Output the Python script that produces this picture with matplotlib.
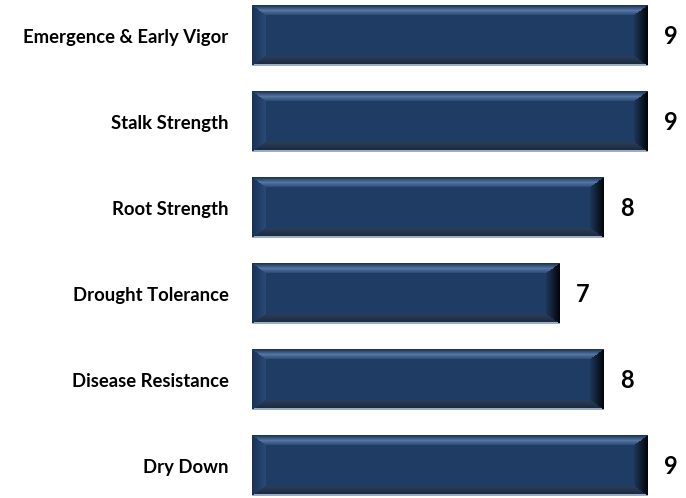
import numpy as np
import matplotlib
matplotlib.use("Agg")
import matplotlib.pyplot as plt
from matplotlib.colors import to_rgb

categories = ['Emergence & Early Vigor', 'Stalk Strength', 'Root Strength',
              'Drought Tolerance', 'Disease Resistance', 'Dry Down']
scores = [9, 9, 8, 7, 8, 9]

plt.rcParams['font.family'] = ['Lato', 'DejaVu Sans']

W, H, DPI = 686, 498, 100
fig = plt.figure(figsize=(W / DPI, H / DPI), dpi=DPI)
# axes: x 0..9 spans 252..648 px, rows 86 px apart
left_px, right_px = 252, 648
top_px, bot_px = -7, 509
ax = fig.add_axes([left_px / W, 1 - bot_px / H, (right_px - left_px) / W, (bot_px - top_px) / H])

ypos = np.arange(len(categories))
bars = ax.barh(ypos, scores, height=0.70, color='#1f3d64', edgecolor='none')
ax.set_xlim(0, 9)
ax.set_ylim(len(categories) - 0.5, -0.5)
ax.set_yticks(ypos)
ax.set_yticklabels(categories, fontsize=13.3, fontweight='bold')
ax.tick_params(axis='y', length=0, pad=17)
ax.set_xticks([])
for s in ax.spines.values():
    s.set_visible(False)


def mix(c1, c2, t):
    c1, c2 = np.array(to_rgb(c1)), np.array(to_rgb(c2))
    return c1 + (c2 - c1) * np.clip(t, 0, 1)[..., None]


def bevel_image(w, h, bx=14, by=10):
    ii, jj = np.mgrid[0:h, 0:w].astype(float)
    t = ii / by
    b = (h - 1 - ii) / by
    l = jj / bx
    r = (w - 1 - jj) / bx
    img = np.tile(np.array(to_rgb('#1f3d64')), (h, w, 1))
    d = np.stack([t, b, l, r])
    side = np.argmin(d, axis=0)
    dmin = np.min(d, axis=0)
    inb = dmin < 1
    # top: dark edge, light band, back to face
    top = np.where((t < 0.5)[..., None], mix('#1b3658', '#5575a2', t * 2),
                   mix('#5575a2', '#27476f', (t - 0.5) * 2))
    # bottom: light rim line, then dark
    bottom = np.where((ii >= h - 2)[..., None], mix('#9aaec8', '#9aaec8', b),
                      mix('#1a2638', '#2c405c', b))
    lft = mix('#1a3255', '#2b4b78', l)
    rgt = mix('#02060c', '#1f3a5e', r)
    for k, arr in enumerate([top, bottom, lft, rgt]):
        m = inb & (side == k)
        img[m] = arr[m]
    return img


fig.canvas.draw()
for bar in bars:
    x0, y0 = bar.get_x(), bar.get_y()
    x1, y1 = x0 + bar.get_width(), y0 + bar.get_height()
    (px0, py0), (px1, py1) = ax.transData.transform([(x0, y0), (x1, y1)])
    w, h = int(round(abs(px1 - px0))), int(round(abs(py1 - py0)))
    ax.imshow(bevel_image(w, h), extent=(x0, x1, y1, y0), aspect='auto',
              interpolation='nearest', zorder=3)

ax.set_xlim(0, 9)
ax.set_ylim(len(categories) - 0.5, -0.5)

for i, v in enumerate(scores):
    ax.annotate(str(v), (v, i), xytext=(16, 0), textcoords='offset pixels',
                ha='left', va='center', fontsize=17, fontweight='bold',
                annotation_clip=False)

fig.savefig('out.png', dpi=DPI)
